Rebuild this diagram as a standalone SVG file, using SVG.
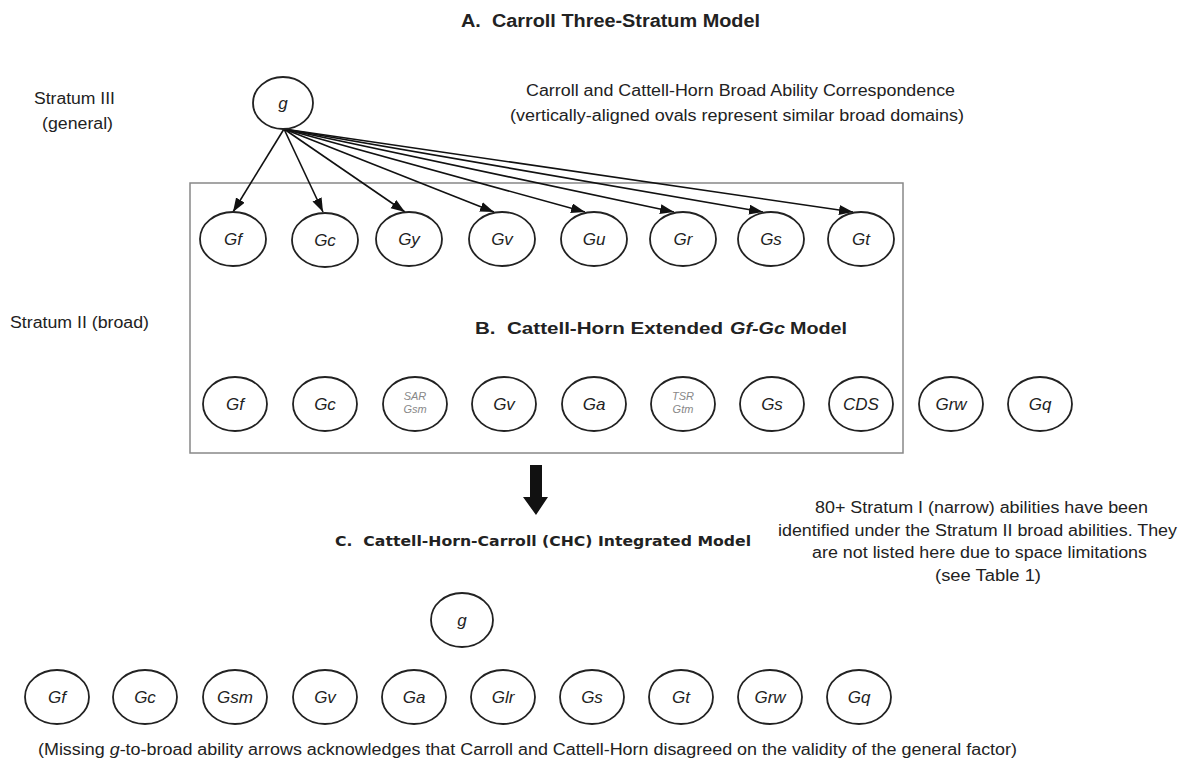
<svg xmlns="http://www.w3.org/2000/svg" width="1192" height="769" viewBox="0 0 1192 769">
<style>
.t{font-family:"Liberation Sans",Arial,sans-serif;font-size:16px;fill:#222}
.tb{font-family:"Liberation Sans",Arial,sans-serif;font-size:18px;font-weight:bold;fill:#222}
.tb17{font-family:"Liberation Sans",Arial,sans-serif;font-size:17px;font-weight:bold;fill:#222}
.tv{font-family:"DejaVu Sans",Verdana,sans-serif;font-size:14px;font-weight:bold;fill:#222}
.ov{fill:#fff;stroke:#222;stroke-width:1.8}
.lb{font-family:"Liberation Sans",Arial,sans-serif;font-size:17px;font-style:italic;fill:#222;text-anchor:middle}
.sm{font-family:"Liberation Sans",Arial,sans-serif;font-size:11px;font-style:italic;fill:#888;text-anchor:middle}
.ln{stroke:#111;stroke-width:1.6;fill:none}
</style>
<defs>
<marker id="ah" markerUnits="userSpaceOnUse" markerWidth="16" markerHeight="12" refX="14" refY="5" orient="auto">
<path d="M0,0 L14,5 L0,10 Z" fill="#111"/>
</marker>
</defs>
<rect width="1192" height="769" fill="#fff"/>

<text class="tb" x="461" y="27" textLength="299" lengthAdjust="spacingAndGlyphs" xml:space="preserve">A.  Carroll Three-Stratum Model</text>
<text class="t" x="34" y="104" textLength="81" lengthAdjust="spacingAndGlyphs">Stratum III</text>
<text class="t" x="42" y="129" textLength="71" lengthAdjust="spacingAndGlyphs">(general)</text>
<text class="t" x="526" y="96" textLength="429" lengthAdjust="spacingAndGlyphs">Carroll and Cattell-Horn Broad Ability Correspondence</text>
<text class="t" x="510" y="121" textLength="454" lengthAdjust="spacingAndGlyphs">(vertically-aligned ovals represent similar broad domains)</text>
<text class="t" x="10" y="328" textLength="139" lengthAdjust="spacingAndGlyphs">Stratum II (broad)</text>

<rect x="190" y="183" width="713" height="270" fill="none" stroke="#888" stroke-width="1.5"/>

<g id="conn">
<line class="ln" x1="284" y1="129" x2="233" y2="212" marker-end="url(#ah)"/>
<line class="ln" x1="284" y1="129" x2="323" y2="212" marker-end="url(#ah)"/>
<line class="ln" x1="284" y1="129" x2="405" y2="212" marker-end="url(#ah)"/>
<line class="ln" x1="284" y1="129" x2="494" y2="212" marker-end="url(#ah)"/>
<line class="ln" x1="284" y1="129" x2="585" y2="212" marker-end="url(#ah)"/>
<line class="ln" x1="284" y1="129" x2="674" y2="212" marker-end="url(#ah)"/>
<line class="ln" x1="284" y1="129" x2="763" y2="212" marker-end="url(#ah)"/>
<line class="ln" x1="284" y1="129" x2="853" y2="212" marker-end="url(#ah)"/>
</g>

<g id="gA"><ellipse class="ov" cx="283" cy="103" rx="30" ry="26"/><text class="lb" x="283" y="109">g</text></g>

<g id="a-Gf"><ellipse class="ov" cx="233" cy="239" rx="33" ry="27"/><text class="lb" x="233" y="245">Gf</text></g>
<g id="a-Gc"><ellipse class="ov" cx="325" cy="240" rx="33" ry="27"/><text class="lb" x="325" y="246">Gc</text></g>
<g id="a-Gy"><ellipse class="ov" cx="409" cy="239" rx="33" ry="27"/><text class="lb" x="409" y="245">Gy</text></g>
<g id="a-Gv"><ellipse class="ov" cx="502" cy="239" rx="33" ry="27"/><text class="lb" x="502" y="245">Gv</text></g>
<g id="a-Gu"><ellipse class="ov" cx="594" cy="239" rx="33" ry="27"/><text class="lb" x="594" y="245">Gu</text></g>
<g id="a-Gr"><ellipse class="ov" cx="683" cy="239" rx="33" ry="27"/><text class="lb" x="683" y="245">Gr</text></g>
<g id="a-Gs"><ellipse class="ov" cx="771" cy="239" rx="33" ry="27"/><text class="lb" x="771" y="245">Gs</text></g>
<g id="a-Gt"><ellipse class="ov" cx="861" cy="239" rx="33" ry="27"/><text class="lb" x="861" y="245">Gt</text></g>

<text class="tb17" x="475" y="334" textLength="248" lengthAdjust="spacingAndGlyphs" xml:space="preserve">B.  Cattell-Horn Extended</text>
<text class="tb17" x="730" y="334" font-style="italic" textLength="55" lengthAdjust="spacingAndGlyphs">Gf-Gc</text>
<text class="tb17" x="790" y="334" textLength="57" lengthAdjust="spacingAndGlyphs">Model</text>

<g id="b-Gf"><ellipse class="ov" cx="235" cy="404" rx="32" ry="27"/><text class="lb" x="235" y="410">Gf</text></g>
<g id="b-Gc"><ellipse class="ov" cx="325" cy="404" rx="32" ry="27"/><text class="lb" x="325" y="410">Gc</text></g>
<g id="b-SAR"><ellipse class="ov" cx="415" cy="404" rx="32" ry="27"/><text class="sm" x="415" y="400">SAR</text><text class="sm" x="415" y="413">Gsm</text></g>
<g id="b-Gv"><ellipse class="ov" cx="504" cy="404" rx="32" ry="27"/><text class="lb" x="504" y="410">Gv</text></g>
<g id="b-Ga"><ellipse class="ov" cx="594" cy="404" rx="32" ry="27"/><text class="lb" x="594" y="410">Ga</text></g>
<g id="b-TSR"><ellipse class="ov" cx="683" cy="404" rx="32" ry="27"/><text class="sm" x="683" y="400">TSR</text><text class="sm" x="683" y="413">Gtm</text></g>
<g id="b-Gs"><ellipse class="ov" cx="772" cy="404" rx="32" ry="27"/><text class="lb" x="772" y="410">Gs</text></g>
<g id="b-CDS"><ellipse class="ov" cx="861" cy="404" rx="32" ry="27"/><text class="lb" x="861" y="410">CDS</text></g>
<g id="b-Grw"><ellipse class="ov" cx="951" cy="404" rx="32" ry="27"/><text class="lb" x="951" y="410">Grw</text></g>
<g id="b-Gq"><ellipse class="ov" cx="1040" cy="404" rx="32" ry="27"/><text class="lb" x="1040" y="410">Gq</text></g>

<path d="M530,465 H542 V497 H548 L536,515 L523,497 H530 Z" fill="#111"/>

<text class="tv" x="335" y="546" textLength="416" lengthAdjust="spacingAndGlyphs" xml:space="preserve">C.  Cattell-Horn-Carroll (CHC) Integrated Model</text>

<text class="t" x="815" y="513" textLength="333" lengthAdjust="spacingAndGlyphs">80+ Stratum I (narrow) abilities have been</text>
<text class="t" x="778" y="535.5" textLength="399" lengthAdjust="spacingAndGlyphs">identified under the Stratum II broad abilities. They</text>
<text class="t" x="812" y="558" textLength="335" lengthAdjust="spacingAndGlyphs">are not listed here due to space limitations</text>
<text class="t" x="935" y="580.5" textLength="106" lengthAdjust="spacingAndGlyphs">(see Table 1)</text>

<g id="gC"><ellipse class="ov" cx="462" cy="620" rx="31" ry="27"/><text class="lb" x="462" y="626">g</text></g>

<g id="c-Gf"><ellipse class="ov" cx="57" cy="697" rx="32" ry="27"/><text class="lb" x="57" y="703">Gf</text></g>
<g id="c-Gc"><ellipse class="ov" cx="145" cy="697" rx="32" ry="27"/><text class="lb" x="145" y="703">Gc</text></g>
<g id="c-Gsm"><ellipse class="ov" cx="235" cy="697" rx="32" ry="27"/><text class="lb" x="235" y="703">Gsm</text></g>
<g id="c-Gv"><ellipse class="ov" cx="325" cy="697" rx="32" ry="27"/><text class="lb" x="325" y="703">Gv</text></g>
<g id="c-Ga"><ellipse class="ov" cx="414" cy="697" rx="32" ry="27"/><text class="lb" x="414" y="703">Ga</text></g>
<g id="c-Glr"><ellipse class="ov" cx="503" cy="697" rx="32" ry="27"/><text class="lb" x="503" y="703">Glr</text></g>
<g id="c-Gs"><ellipse class="ov" cx="592" cy="697" rx="32" ry="27"/><text class="lb" x="592" y="703">Gs</text></g>
<g id="c-Gt"><ellipse class="ov" cx="681" cy="697" rx="32" ry="27"/><text class="lb" x="681" y="703">Gt</text></g>
<g id="c-Grw"><ellipse class="ov" cx="770" cy="697" rx="32" ry="27"/><text class="lb" x="770" y="703">Grw</text></g>
<g id="c-Gq"><ellipse class="ov" cx="859" cy="697" rx="32" ry="27"/><text class="lb" x="859" y="703">Gq</text></g>

<text class="t" x="38" y="755" textLength="979" lengthAdjust="spacingAndGlyphs">(Missing <tspan font-style="italic">g</tspan>-to-broad ability arrows acknowledges that Carroll and Cattell-Horn disagreed on the validity of the general factor)</text>
</svg>
